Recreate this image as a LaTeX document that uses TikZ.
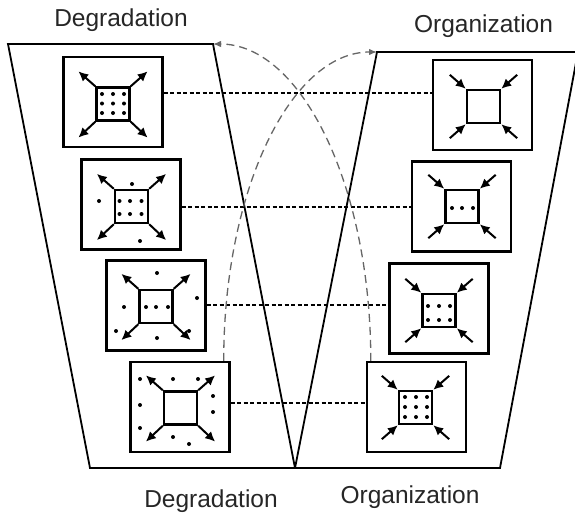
\documentclass[tikz,border=0pt]{standalone}
\usepackage{fontspec}
\setmainfont{Liberation Sans}
\usetikzlibrary{arrows.meta,calc}

\begin{document}
\begin{tikzpicture}[x=1pt,y=-1pt,
  frame/.style={line width=1.8pt,line join=miter},
  panel/.style={draw,line width=2.4pt,minimum width=99pt,minimum height=90pt,inner sep=0pt},
  core/.style={draw,line width=2.4pt,minimum size=33pt,inner sep=0pt},
  outflow/.style={line width=2pt,-{Latex[length=10pt,width=9.5pt]}},
  inflow/.style={line width=2pt,{Latex[length=10pt,width=9.5pt]}-},
  link/.style={line width=2.1pt,dash pattern=on 4pt off 2.5pt},
  swapline/.style={line width=1.3pt,draw=black!60,dash pattern=on 8pt off 5pt,
    -{Latex[length=8pt,width=6.5pt]}},
  caption/.style={font=\fontsize{24.5pt}{26pt}\selectfont,text=black!85,anchor=base,inner sep=0pt},
  dot/.style={fill=black}]

\useasboundingbox (0,0) rectangle (575,514);

% captions
\node[caption] (degtop) at (121,27) {Degradation};
\node[caption] (orgtop) at (483.5,32) {Organization};
\node[caption] (degbot) at (211,507) {Degradation};
\node[caption] (orgbot) at (410,503) {Organization};

% the two funnels
\coordinate (lt) at (213,44);
\coordinate (rt) at (377,52);
\draw[frame] (8,44) -- (lt) -- (295,468) -- (90,468) -- cycle;
\draw[frame] (rt) -- (578,52) -- (500,468) -- (295,468) -- cycle;

% degradation panels
\node[panel] (L1) at (113,102) {};
\node[panel] (L2) at (131,204.5) {};
\node[panel] (L3) at (156,305.5) {};
\node[panel] (L4) at (180,407) {};
\node[core] (L1s) at (113,104) {};
\node[core] (L2s) at (131.5,206.5) {};
\node[core] (L3s) at (156,306.5) {};
\node[core] (L4s) at (180.5,408) {};

% organization panels
\node[panel] (R1) at (482.5,105) {};
\node[panel] (R2) at (461.5,206.5) {};
\node[panel] (R3) at (439,308.5) {};
\node[panel] (R4) at (416.5,407) {};
\node[core] (R1s) at (483.5,106.5) {};
\node[core] (R2s) at (462,206.5) {};
\node[core] (R3s) at (439,310.5) {};
\node[core] (R4s) at (415.5,407.5) {};

% outward arrows at the corners of the degrading squares
\foreach \s in {L1s,L2s,L3s,L4s}{
  \draw[outflow] (\s.north west) -- +(-17,-15);
  \draw[outflow] (\s.north east) -- +(17,-15);
  \draw[outflow] (\s.south west) -- +(-17,16);
  \draw[outflow] (\s.south east) -- +(17,16);
}
% inward arrows at the corners of the organizing squares
\foreach \s in {R1s,R2s,R3s,R4s}{
  \draw[inflow] (\s.north west) -- +(-16,-14);
  \draw[inflow] (\s.north east) -- +(16,-14);
  \draw[inflow] (\s.south west) -- +(-16,14);
  \draw[inflow] (\s.south east) -- +(16,14);
}

% particles
\foreach \p in {(102,94),(113,94),(124,94),(102,103.5),(113,103.5),(124,103.5),(102,113),(113,113),(124,113)}
  \fill[dot] \p circle (2);
\foreach \p in {(119.5,201),(130,201),(141.5,201),(119.5,214),(130,214),(141.5,214),(132,184),(99,201),(140,241)}
  \fill[dot] \p circle (2);
\foreach \p in {(146,307),(156,307),(168,307),(157,273),(124,307),(197,298),(116,331),(189,331),(157,338)}
  \fill[dot] \p circle (2);
\foreach \p in {(140,379),(173,379),(198,379),(140,405),(140,428),(213,396),(213,412),(173,437),(189,444)}
  \fill[dot] \p circle (2);
\foreach \p in {(452,208),(462,208),(473,208)}
  \fill[dot] \p circle (2);
\foreach \p in {(428,306),(439,306),(450,306),(428,320),(439,320),(450,320)}
  \fill[dot] \p circle (2);
\foreach \p in {(405,397),(416,397),(427,397),(405,407),(416,407),(427,407),(405,417),(416,417),(427,417)}
  \fill[dot] \p circle (2);

% horizontal links between matching stages
\coordinate (row1) at (0,93);
\coordinate (row2) at (0,207);
\coordinate (row3) at (0,305);
\coordinate (row4) at (0,403);
\draw[link] (L1.east |- row1) -- (R1.west |- row1);
\draw[link] (L2.east |- row2) -- (R2.west |- row2);
\draw[link] (L3.east |- row3) -- (R3.west |- row3);
\draw[link] (L4.east |- row4) -- (R4.west |- row4);

% crossing exchange curves
\draw[swapline] ([xshift=-7pt]L4.north east) .. controls +(0,-171) and +(-86,0) .. (rt);
\draw[swapline] ([xshift=5pt]R4.north west) .. controls +(0,-175.6) and +(88,0) .. (lt);

\end{tikzpicture}
\end{document}
